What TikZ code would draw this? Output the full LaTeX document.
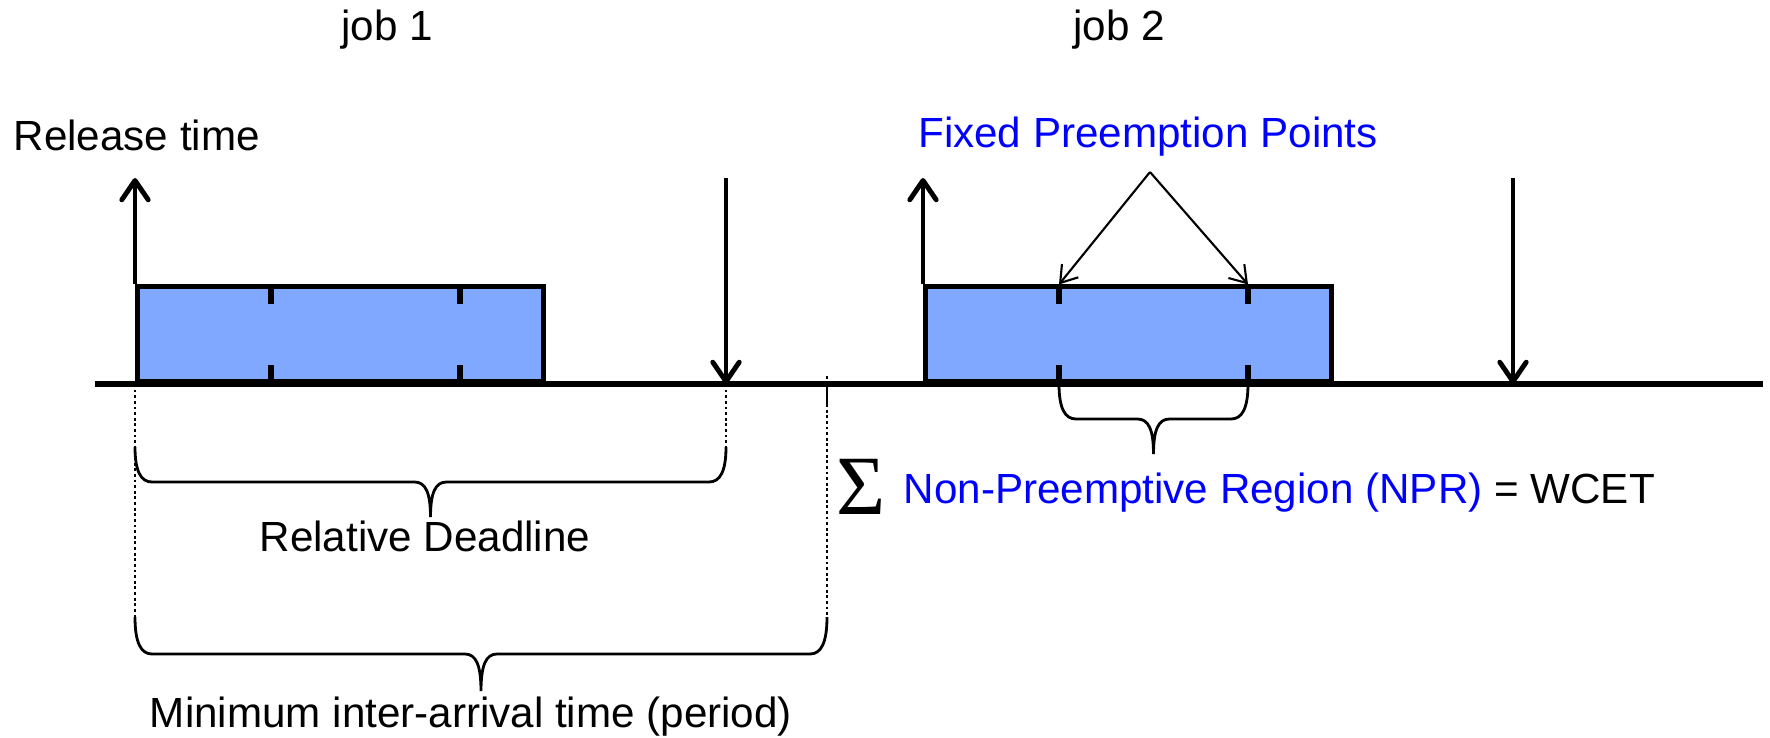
\documentclass[tikz,border=0pt]{standalone}
\usepackage{fontspec}
\setmainfont{Liberation Sans}
\newfontfamily\sumfont{Liberation Serif}
\usetikzlibrary{arrows.meta,positioning,calc}
\definecolor{jobfill}{RGB}{128,168,255}
\definecolor{ppblue}{RGB}{0,0,255}

% curly brace hanging below a span: left x, right x, top y, half depth
\newcommand{\spanbrace}[4]{%
  \draw[curly] (#1,#3) .. controls (#1,#3-0.7*#4) and (#1+6,#3-#4) .. (#1+17,#3-#4)
    -- ({(#1+#2)/2-16},#3-#4) .. controls ({(#1+#2)/2-5},#3-#4) and ({(#1+#2)/2},#3-1.3*#4) .. ({(#1+#2)/2},#3-2*#4)
    .. controls ({(#1+#2)/2},#3-1.3*#4) and ({(#1+#2)/2+5},#3-#4) .. ({(#1+#2)/2+16},#3-#4)
    -- (#2-17,#3-#4) .. controls (#2-6,#3-#4) and (#2,#3-0.7*#4) .. (#2,#3);}

\begin{document}
\begin{tikzpicture}[
  x=0.1mm, y=0.1mm,
  font=\fontsize{12}{14}\selectfont,
  txt/.style={inner sep=0pt},
  jobbox/.style={draw, line width=1.3pt, fill=jobfill, minimum width=40.6mm, minimum height=9.5mm, inner sep=0pt, anchor=south west},
  timeline/.style={line width=1.5pt},
  event/.style={line width=1.4pt, -{Straight Barb[length=5.5pt,width=7.5pt,round]}},
  pointer/.style={line width=0.6pt, -{Straight Barb[length=4.5pt,width=6pt]}},
  pptick/.style={line width=1.6pt},
  guide/.style={line width=0.8pt, dash pattern=on 0.8pt off 0.8pt},
  curly/.style={line width=0.8pt}
]
  \useasboundingbox (0,0) rectangle (1770,737);

  % time axis and the two jobs
  \coordinate (axisstart) at (95,353);
  \coordinate (axisend) at (1763,353);
  \node[jobbox] (job1) at (135,353) {};
  \node[jobbox] (job2) at (923,353) {};
  \draw[timeline] (axisstart) -- (axisend);

  \foreach \j in {job1,job2}
    \foreach \d in {136,325} {
      \draw[pptick] ($(\j.north west)+(\d,0)$) -- ++(0,-20);
      \draw[pptick] ($(\j.south west)+(\d,0)$) -- ++(0,19);
    }

  % release and deadline events
  \coordinate (rel1) at (135,559);
  \coordinate (rel2) at (923,559);
  \coordinate (dl1top) at (726,559);
  \coordinate (dl1) at (726,353);
  \coordinate (dl2top) at (1513,559);
  \coordinate (dl2) at (1513,353);
  \draw[event] (job1.north west) -- (rel1);
  \draw[event] (job2.north west) -- (rel2);
  \draw[event] (dl1top) -- (dl1);
  \draw[event] (dl2top) -- (dl2);

  \node[txt, anchor=base] (jobone) at (387,697) {job 1};
  \node[txt, anchor=base] (jobtwo) at (1119,697) {job 2};
  \node[txt, anchor=base west] (reltime) at (13,587) {Release time};

  % fixed preemption points
  \node[txt, anchor=base, text=ppblue] (fpp) at (1148,590) {Fixed Preemption Points};
  \coordinate (fppfork) at (1150,565);
  \draw[pointer] (fppfork) -- ($(job2.north west)+(136,0)$);
  \draw[pointer] (fppfork) -- ($(job2.north west)+(325,0)$);

  % guides down to the braces
  \draw[guide] (job1.south west) -- (135,120);
  \draw[guide] (dl1) -- (726,290);
  \draw[guide] (827,361) -- (827,120);
  \draw[line width=0.7pt] (827,353) -- (827,332);

  \spanbrace{135}{726}{290}{35}
  \spanbrace{135}{827}{120}{37}
  \spanbrace{1059}{1248}{353}{35}

  \node[txt, anchor=base] (reldl) at (425,186) {Relative Deadline};
  \node[txt, anchor=base] (period) at (471,10) {Minimum inter-arrival time (period)};
  \node[txt, anchor=base west] (sigma) at (836,223) {\sumfont\fontsize{24}{24}\selectfont Σ};
  \node[txt, anchor=base west] (npr) at (903,234) {\textcolor{ppblue}{Non-Preemptive Region (NPR)} = WCET};
\end{tikzpicture}
\end{document}
